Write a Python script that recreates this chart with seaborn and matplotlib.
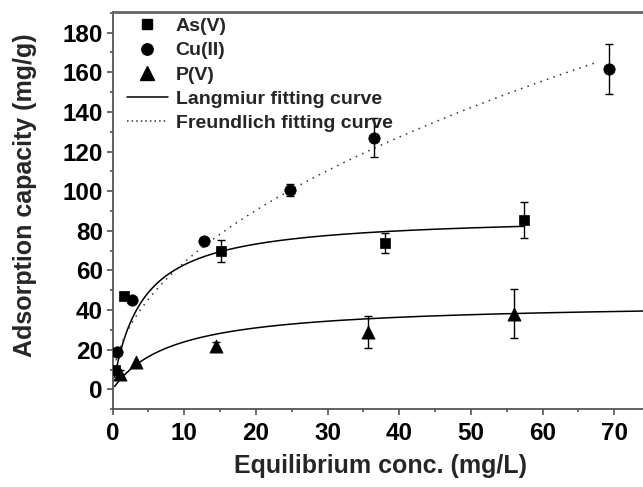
import matplotlib
matplotlib.use("Agg")
import matplotlib.pyplot as plt
import seaborn as sns
import numpy as np
import pandas as pd
from matplotlib.lines import Line2D
from matplotlib.ticker import MultipleLocator
from matplotlib import font_manager

# ---- data ----
as_x = [0.4, 1.6, 15.2, 38.0, 57.4]
as_y = [9.6, 47.0, 69.7, 73.9, 85.4]
as_err = [0.0, 0.0, 5.5, 5.0, 8.9]

cu_x = [0.6, 2.7, 12.8, 24.8, 36.5, 69.2]
cu_y = [18.8, 45.0, 74.7, 100.5, 127.0, 161.5]
cu_err = [0.0, 0.0, 0.0, 3.0, 9.7, 12.5]

p_x = [1.0, 3.3, 14.4, 35.7, 56.0]
p_y = [8.0, 14.0, 21.7, 29.0, 38.2]
p_err = [2.0, 0.0, 2.0, 8.0, 12.4]

# fitted model parameters
lang_as = dict(qm=88.0, K=0.25, x0=0.3, x1=57.4)
lang_p = dict(qm=44.0, K=0.12, x0=0.3, x1=80.0)
freu_cu = dict(Kf=20.5, inv_n=0.495, x0=0.3, x1=67.4)

series_labels = ["As(V)", "Cu(II)", "P(V)"]
curve_labels = ["Langmiur fitting curve", "Freundlich fitting curve"]
x_label = "Equilibrium conc. (mg/L)"
y_label = "Adsorption capacity (mg/g)"

sns.set_style("ticks")
names = {f.name for f in font_manager.fontManager.ttflist}
fam = "Liberation Sans" if "Liberation Sans" in names else "DejaVu Sans"
plt.rcParams["font.family"] = [fam, "DejaVu Sans"]

fig = plt.figure(figsize=(6.43, 4.87), dpi=100)
ax = fig.add_axes([112.5 / 643, 1 - 409.3 / 487, 1 - 112.5 / 643, (409.3 - 11.7) / 487])

pts = pd.concat([
    pd.DataFrame({"x": as_x, "y": as_y, "err": as_err, "ion": series_labels[0]}),
    pd.DataFrame({"x": cu_x, "y": cu_y, "err": cu_err, "ion": series_labels[1]}),
    pd.DataFrame({"x": p_x, "y": p_y, "err": p_err, "ion": series_labels[2]}),
])
markers = {series_labels[0]: "s", series_labels[1]: "o", series_labels[2]: "^"}
sizes = {series_labels[0]: 7.2, series_labels[1]: 8.2, series_labels[2]: 9.5}


def langmuir(p, n=300):
    x = np.linspace(p["x0"], p["x1"], n)
    return x, p["qm"] * p["K"] * x / (1 + p["K"] * x)


def freundlich(p, n=300):
    x = np.linspace(p["x0"], p["x1"], n)
    return x, p["Kf"] * x ** p["inv_n"]


xa, ya = langmuir(lang_as)
xp, yp = langmuir(lang_p)
xc, yc = freundlich(freu_cu)
sns.lineplot(x=xa, y=ya, ax=ax, color="black", lw=1.1, sort=False)
sns.lineplot(x=xp, y=yp, ax=ax, color="black", lw=1.1, sort=False)
sns.lineplot(x=xc, y=yc, ax=ax, color="#333333", lw=1.1, linestyle=(0, (1, 3.5)), sort=False)

for ion, d in pts.groupby("ion", sort=False):
    e = d[d["err"] > 0]
    ax.errorbar(e["x"], e["y"], yerr=e["err"], fmt="none", ecolor="black",
                elinewidth=1.0, capsize=3, capthick=1.0, zorder=3)
    sns.scatterplot(data=d, x="x", y="y", ax=ax, marker=markers[ion],
                    s=sizes[ion] ** 2, color="black", edgecolor="black",
                    linewidth=0.5, zorder=4, legend=False)

ax.set_xlim(0, 74.0)
ax.set_ylim(-10, 190.5)
ax.xaxis.set_major_locator(MultipleLocator(10))
ax.xaxis.set_minor_locator(MultipleLocator(5))
ax.yaxis.set_minor_locator(MultipleLocator(10))
ax.set_yticks([0, 20, 40, 60, 80, 100, 120, 140, 160, 180])
ax.tick_params(axis="both", which="major", length=4, width=1.1, labelsize=17.5,
               colors="#444444", labelcolor="black", pad=3)
ax.tick_params(axis="both", which="minor", length=2.5, width=1.1, colors="#444444")
ax.tick_params(axis="x", which="major", pad=5.5)
for lab in ax.get_xticklabels() + ax.get_yticklabels():
    lab.set_fontweight("bold")
for s in ["left", "bottom", "top"]:
    ax.spines[s].set_color("#555555")
    ax.spines[s].set_linewidth(1.3)
ax.spines["top"].set_linewidth(2.0)
ax.spines["top"].set_color("#666666")
ax.spines["right"].set_visible(False)

ax.set_xlabel("")
ax.set_ylabel("")
fig.text(380 / 643, 1 - 466 / 487, x_label, ha="center", va="center",
         fontsize=18, fontweight="bold")
fig.text(25 / 643, 1 - 195 / 487, y_label, ha="center", va="center", rotation=90,
         fontsize=18, fontweight="bold")

handles = [
    Line2D([], [], marker="s", ls="none", color="black", ms=7.2),
    Line2D([], [], marker="o", ls="none", color="black", ms=8.2),
    Line2D([], [], marker="^", ls="none", color="black", ms=9.5),
    Line2D([], [], color="black", lw=1.1),
    Line2D([], [], color="#333333", lw=1.1, linestyle=(0, (1, 2))),
]
leg = ax.legend(handles, series_labels + curve_labels, loc="upper left",
                bbox_to_anchor=(127 / 643, 1 - 17.5 / 487), bbox_transform=fig.transFigure,
                frameon=False, handlelength=2.1, handletextpad=0.4,
                labelspacing=0.34, borderpad=0, borderaxespad=0,
                prop={"weight": "bold", "size": 14})

fig.savefig("out.png", dpi=100)
